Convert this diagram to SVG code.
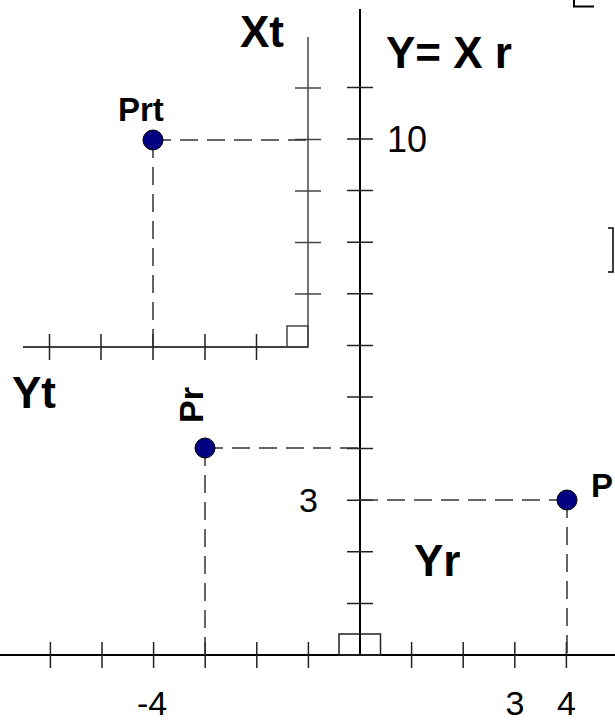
<svg xmlns="http://www.w3.org/2000/svg" width="615" height="726" viewBox="0 0 615 726">
<style>
.axis{stroke:#000;stroke-width:2;fill:none}
.axis2{stroke:#444;stroke-width:1.5;fill:none}
.tick{stroke:#222;stroke-width:1.5;fill:none}
.dash{stroke:#333;stroke-width:1.5;stroke-dasharray:18 9;fill:none}
.pt{fill:#000080;stroke:#000;stroke-width:1}
.lb{font-family:"Liberation Sans",Arial,sans-serif;font-weight:bold;fill:#000}
.num{font-family:"Liberation Sans",Arial,sans-serif;fill:#000}
</style>
<rect width="615" height="726" fill="#fff"/>
<g id="main-axes">
  <path class="axis" d="M360,9 V655 M0,655 H615"/>
  <path class="tick" d="M347,87.4 H373 M347,139 H373 M347,190.6 H373 M347,242.2 H373 M347,293.8 H373 M347,345.4 H373 M347,397 H373 M347,448.6 H373 M347,500.2 H373 M347,551.8 H373 M347,603.4 H373"/>
  <path class="tick" d="M50.4,642 V668 M102,642 V668 M153.6,642 V668 M205.2,642 V668 M256.8,642 V668 M308.4,642 V668 M411.6,642 V668 M463.2,642 V668 M514.8,642 V668 M566.4,642 V668"/>
  <rect x="339" y="634" width="41.5" height="21" class="tick"/>
</g>
<g id="rotated-axes">
  <path class="axis2" d="M308,37 V347"/>
  <path class="axis" style="stroke-width:1.5" d="M23,347 H308"/>
  <path class="axis2" d="M295,88 H321 M295,139.5 H321 M295,191 H321 M295,242.5 H321 M295,294 H321"/>
  <path class="tick" d="M49.5,334 V360 M101,334 V360 M153,334 V360 M205,334 V360 M256.5,334 V360"/>
  <rect x="287" y="326" width="21" height="21" class="axis2"/>
</g>
<g id="connectors">
  <path class="dash" d="M153,140 H308 M153,140 V347"/>
  <path class="dash" d="M205,448 H360 M205,448 V655"/>
  <path class="dash" d="M567,500 H360 M567,500 V655"/>
</g>
<g id="node-Prt">
  <circle class="pt" cx="153" cy="140" r="10"/>
  <text class="lb" x="118" y="121" font-size="33">Prt</text>
</g>
<g id="node-Pr">
  <circle class="pt" cx="205" cy="448" r="10"/>
  <text class="lb" font-size="34" transform="translate(203,423) rotate(-90)">Pr</text>
</g>
<g id="node-P">
  <circle class="pt" cx="567" cy="500" r="10"/>
  <text class="lb" x="591" y="497" font-size="33">P</text>
</g>
<g id="labels">
  <text class="lb" x="240" y="47" font-size="44">Xt</text>
  <text class="lb" x="386" y="68" font-size="44">Y= X r</text>
  <text class="lb" x="12" y="408" font-size="44">Yt</text>
  <text class="lb" x="414" y="576" font-size="44">Yr</text>
  <text class="num" x="387" y="152" font-size="36">10</text>
  <text class="num" x="308.5" y="512" font-size="34" text-anchor="middle">3</text>
  <text class="num" x="152" y="715" font-size="34" text-anchor="middle">-4</text>
  <text class="num" x="515" y="715" font-size="34" text-anchor="middle">3</text>
  <text class="num" x="566.5" y="715" font-size="34" text-anchor="middle">4</text>
</g>
<g id="fragments">
  <path class="axis" d="M574,0 V6.5 H594"/>
  <path class="axis" style="stroke-width:1.5" d="M608,228 H613 V272 H608"/>
</g>
</svg>
